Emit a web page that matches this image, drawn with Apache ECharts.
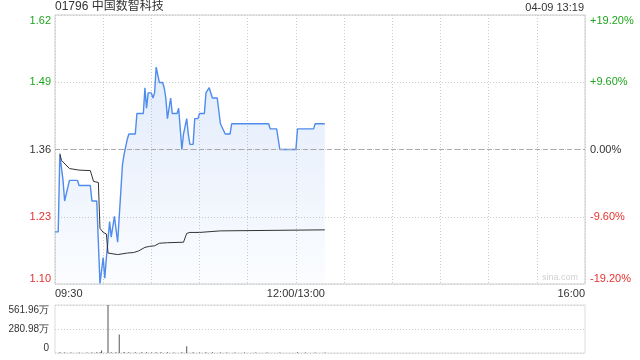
<!DOCTYPE html>
<html>
<head>
<meta charset="utf-8">
<script src="https://cdn.jsdelivr.net/npm/echarts@6/dist/echarts.min.js"></script>
<style>
html,body{margin:0;padding:0;background:#fff;}
#c{width:640px;height:360px;}
</style>
</head>
<body>
<div id="c"></div>
<script>
// ---- data ----
const stockTitle = '01796 中国数智科技';
const stampText = '04-09 13:19';
const prevClose = 1.36;
const pctTicks = [-19.2, -9.6, 0, 9.6, 19.2];
const timeTickPos = [0, 150, 330];
const timeTickText = ['09:30', '12:00/13:00', '16:00'];
const volTicks = [0, 280.98, 561.96];

const priceTimes = ['09:30','09:32','09:33','09:34','09:35','09:36','09:37','09:39','09:44','09:45','09:52','09:53','09:56','09:58','10:00','10:01','10:02','10:03','10:04','10:05','10:06','10:07','10:08','10:09','10:10','10:11','10:12','10:13','10:14','10:15','10:16','10:20','10:21','10:25','10:26','10:27','10:28','10:30','10:31','10:32','10:33','10:34','10:35','10:37','10:38','10:39','10:40','10:41','10:42','10:43','10:46','10:47','10:48','10:49','10:50','10:51','10:52','10:53','10:54','10:56','10:57','10:59','11:00','11:03','11:04','11:05','11:06','11:07','11:08','11:11','11:13','11:14','11:16','11:19','11:20','11:43','11:44','11:48','11:50','12:00','13:01','13:11','13:12','13:18'];
const prices = [1.20,1.20,1.35,1.35,1.30,1.26,1.26,1.30,1.30,1.29,1.29,1.26,1.26,1.10,1.15,1.11,1.15,1.15,1.22,1.19,1.19,1.23,1.23,1.18,1.23,1.28,1.33,1.35,1.35,1.38,1.39,1.39,1.43,1.43,1.48,1.44,1.47,1.47,1.46,1.47,1.52,1.52,1.49,1.49,1.48,1.46,1.42,1.42,1.46,1.43,1.43,1.44,1.44,1.36,1.39,1.39,1.42,1.39,1.37,1.37,1.42,1.42,1.43,1.43,1.47,1.47,1.48,1.48,1.46,1.46,1.41,1.41,1.39,1.39,1.41,1.41,1.40,1.40,1.36,1.36,1.40,1.40,1.41,1.41];

const avgTimes = ['09:33','09:34','09:39','09:45','09:52','09:54','09:57','09:58','10:00','10:02','10:03','10:09','10:15','10:19','10:22','10:26','10:29','10:32','10:35','10:40','10:50','10:52','10:54','11:00','11:13','11:14','13:18'];
const avgPrices = [1.352,1.339,1.323,1.320,1.319,1.298,1.296,1.207,1.199,1.196,1.159,1.156,1.159,1.160,1.163,1.170,1.172,1.173,1.178,1.179,1.180,1.197,1.199,1.199,1.202,1.203,1.204];

const volTimes = ['09:33','09:36','09:40','09:45','09:50','09:53','09:56','09:58','09:59','10:03','10:05','10:08','10:10','10:13','10:16','10:20','10:24','10:27','10:30','10:33','10:36','10:40','10:44','10:49','10:52','10:56','11:00','11:04','11:08','11:13','11:17','11:22','11:28','11:35','11:42','11:50','13:01','13:06','13:12','13:18'];
const volumes = [8,5,6,5,7,6,8,10,28,561.96,10,9,218,12,9,8,10,9,7,9,8,9,7,10,79,8,7,9,8,7,6,5,6,5,6,7,8,5,6,5];

// ---- helpers ----
function toIdx(t) {
  const [h, m] = t.split(':').map(Number);
  let v = h * 60 + m - 570;
  if (v > 150) v -= 60;
  return v;
}
function toPct(p) { return (p / prevClose - 1) * 100; }

const GREEN = '#1ea51e', RED = '#e8312f', TXT = '#333';
const pMin = pctTicks[0], pMax = pctTicks[pctTicks.length - 1], pInt = pctTicks[1] - pctTicks[0];

const chart = echarts.init(document.getElementById('c'), null, {renderer: 'canvas'});
const labelColor = function (v) {
  const n = Math.round(Number(v) * 100);
  return n > 0 ? GREEN : (n < 0 ? RED : TXT);
};
const font = 'Liberation Sans, Arial, sans-serif';

chart.setOption({
  animation: false,
  textStyle: {fontFamily: font},
  title: [
    {text: stockTitle, left: 55, top: 1, padding: 0,
     textStyle: {fontSize: 12, fontWeight: 'normal', color: TXT, fontFamily: 'Liberation Sans, "Noto Sans CJK SC", sans-serif'}},
    {text: stampText, right: 56, top: 2, padding: 0,
     textStyle: {fontSize: 11, fontWeight: 'normal', color: TXT}}
  ],
  graphic: [{
    type: 'text', right: 62, top: 273, silent: true,
    style: {text: 'sina.com', fill: '#d0d0d0', fontSize: 9, fontFamily: font}
  }],
  grid: [
    {left: 55, top: 15, width: 530, height: 269, show: true, borderColor: '#cccccc', borderWidth: 1},
    {left: 55, top: 305, width: 530, height: 48, show: true, borderColor: '#dddddd', borderWidth: 1}
  ],
  xAxis: [
    {type: 'value', gridIndex: 0, min: 0, max: 330, interval: 30,
     axisLine: {show: false}, axisTick: {show: false},
     splitLine: {show: true, lineStyle: {color: '#cccccc', type: [1, 2]}},
     axisLabel: {show: true, margin: 4, fontSize: 11, color: TXT,
       showMinLabel: true, showMaxLabel: true,
       alignMinLabel: 'left', alignMaxLabel: 'right',
       formatter: function (v) { const i = timeTickPos.indexOf(Math.round(v)); return i >= 0 ? timeTickText[i] : ''; }}},
    {type: 'value', gridIndex: 1, min: 0, max: 330, interval: 30,
     axisLine: {show: false}, axisTick: {show: false}, splitLine: {show: false}, axisLabel: {show: false}}
  ],
  yAxis: [
    {type: 'value', gridIndex: 0, position: 'left', min: pMin, max: pMax, interval: pInt,
     axisLine: {show: false}, axisTick: {show: false},
     splitLine: {show: true, lineStyle: {color: '#cccccc', type: [1, 2]}},
     axisLabel: {margin: 4, fontSize: 11, color: labelColor,
       verticalAlignMinLabel: 'bottom', verticalAlignMaxLabel: 'top',
       formatter: function (v) { return (prevClose * (1 + v / 100)).toFixed(2); }}},
    {type: 'value', gridIndex: 0, position: 'right', min: pMin, max: pMax, interval: pInt,
     axisLine: {show: false}, axisTick: {show: false}, splitLine: {show: false},
     axisLabel: {margin: 5, fontSize: 11, color: labelColor,
       verticalAlignMinLabel: 'bottom', verticalAlignMaxLabel: 'top',
       formatter: function (v) { const r = Math.round(v * 100) / 100; return (r > 0 ? '+' : '') + r.toFixed(2) + '%'; }}},
    {type: 'value', gridIndex: 1, min: volTicks[0], max: volTicks[2], interval: volTicks[1] - volTicks[0],
     axisLine: {show: false}, axisTick: {show: false},
     splitLine: {show: true, lineStyle: {color: '#cccccc', type: [1, 2]}},
     axisLabel: {margin: 6, fontSize: 10, color: TXT,
       verticalAlignMinLabel: 'bottom', verticalAlignMaxLabel: 'top',
       formatter: function (v) { return v === 0 ? '0' : v.toFixed(2) + '万'; }}}
  ],
  series: [
    {type: 'line', xAxisIndex: 0, yAxisIndex: 0, symbol: 'none', silent: true,
     data: priceTimes.map((t, i) => [toIdx(t), toPct(prices[i])]),
     lineStyle: {color: '#4f8cec', width: 1.4},
     areaStyle: {origin: 'start', color: new echarts.graphic.LinearGradient(0, 0, 0, 1, [
       {offset: 0, color: 'rgba(79,140,236,0.24)'},
       {offset: 1, color: 'rgba(79,140,236,0.03)'}])},
     markLine: {silent: true, symbol: ['none', 'none'], label: {show: false},
       lineStyle: {color: '#aaaaaa', type: [5, 3], width: 1},
       data: [{yAxis: 0}]},
     z: 3},
    {type: 'line', xAxisIndex: 0, yAxisIndex: 0, symbol: 'none', silent: true,
     data: avgTimes.map((t, i) => [toIdx(t), toPct(avgPrices[i])]),
     lineStyle: {color: '#333333', width: 1}, z: 4},
    {type: 'bar', xAxisIndex: 1, yAxisIndex: 2, silent: true, barWidth: 1,
     data: volTimes.map((t, i) => [toIdx(t), volumes[i]]),
     itemStyle: {color: '#555555'}}
  ]
});
</script>
</body>
</html>
